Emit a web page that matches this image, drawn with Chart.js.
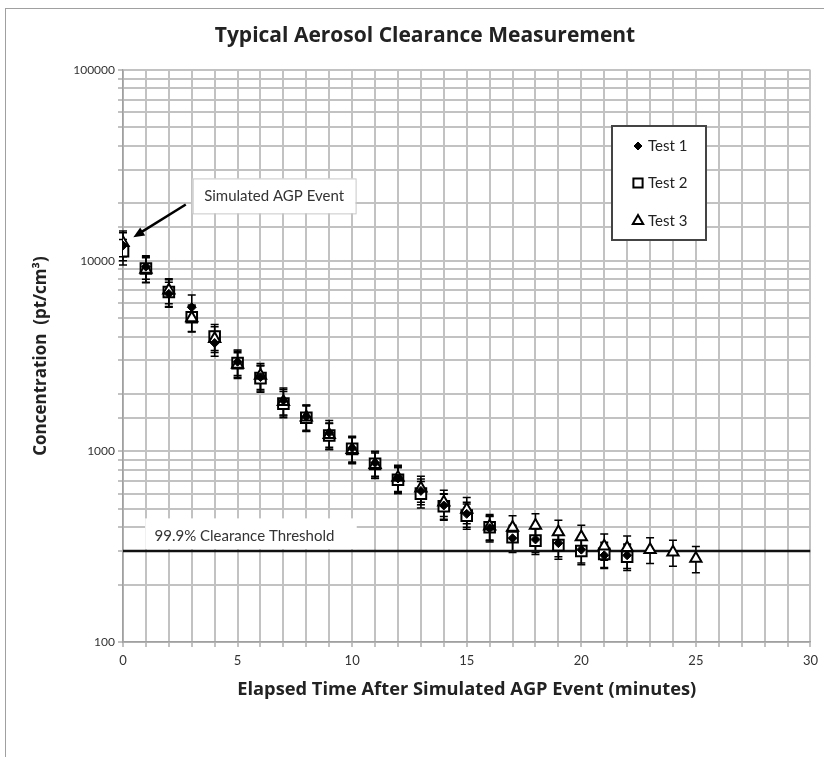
<!DOCTYPE html>
<html><head><meta charset="utf-8">
<script src="https://cdn.jsdelivr.net/npm/chart.js@4.4.0/dist/chart.umd.min.js"></script>
<style>
html,body{margin:0;padding:0;background:#fff;}
#wrap{position:relative;width:824px;height:757px;overflow:hidden;background:#fff;}
#frame{position:absolute;left:5px;top:8px;width:900px;height:900px;border:1.5px solid #a0a0a0;}
canvas{position:absolute;left:0;top:0;}
</style></head><body>
<div id="wrap"><div id="frame"></div><canvas id="c" width="824" height="757"></canvas></div>
<script>
// ---- data ----
const time12 = [0,1,2,3,4,5,6,7,8,9,10,11,12,13,14,15,16,17,18,19,20,21,22];
const time3  = [0,1,2,3,4,5,6,7,8,9,10,11,12,13,14,15,16,17,18,19,20,21,22,23,24,25];
const test1    = [12000,9300,6700,5700,3700,2950,2450,1850,1520,1250,1040,870,720,620,520,470,395,350,345,330,305,285,285];
const test1Err = [2000,1300,1000,900,550,450,380,300,230,200,160,130,110,95,80,70,60,55,50,50,45,42,42];
const test2    = [11200,9100,6850,5050,4000,2900,2420,1780,1500,1210,1030,860,710,600,515,460,400,355,340,322,300,290,280];
const test2Err = [1700,1400,1100,800,620,450,380,280,230,190,160,135,110,95,80,70,60,55,52,50,46,44,43];
const test3    = [12400,9000,7000,5000,3900,2850,2500,1820,1510,1220,1020,850,730,640,540,495,405,398,408,377,355,318,312,305,296,274];
const test3Err = [1900,1350,1050,780,600,440,390,290,235,190,160,130,115,100,85,78,62,62,62,58,55,50,48,47,46,43];
const threshold = 300;
const xTickLabels = [0,5,10,15,20,25,30];
const yTickLabels = [100,1000,10000,100000];
const seriesNames = ['Test 1','Test 2','Test 3'];
const chartTitle = 'Typical Aerosol Clearance Measurement';

const pts = (xs, ys) => xs.map((x, i) => ({x, y: ys[i]}));
const FONT = 'Lato, "Open Sans", sans-serif';
const BFONT = '"Open Sans", Lato, sans-serif';

const datasets = [
  {label: seriesNames[0], data: pts(time12, test1), err: test1Err, order: 1,
   pointStyle: 'rectRot', pointRadius: 4.5, backgroundColor: '#000', borderColor: '#000', borderWidth: 1, showLine: false},
  {label: seriesNames[2], data: pts(time3, test3), err: test3Err, order: 2,
   pointStyle: 'triangle', pointRadius: 6.5, backgroundColor: '#fff', borderColor: '#000', borderWidth: 2, showLine: false},
  {label: seriesNames[1], data: pts(time12, test2), err: test2Err, order: 3,
   pointStyle: 'rect', pointRadius: 7.5, backgroundColor: '#fff', borderColor: '#000', borderWidth: 2, showLine: false},
  {label: 'threshold', type: 'line', data: [{x: 0, y: threshold}, {x: 30, y: threshold}], order: 4,
   borderColor: '#111', borderWidth: 2.5, pointRadius: 0, fill: false}
];

const errorBars = {
  id: 'errorBars',
  beforeDatasetsDraw(chart) {
    const ctx = chart.ctx, xs = chart.scales.x, ys = chart.scales.y;
    ctx.save();
    ctx.strokeStyle = '#000'; ctx.lineWidth = 1.5;
    chart.data.datasets.forEach(ds => {
      if (!ds.err) return;
      ds.data.forEach((p, i) => {
        const px = xs.getPixelForValue(p.x);
        const top = ys.getPixelForValue(p.y + ds.err[i]);
        const bot = ys.getPixelForValue(p.y - ds.err[i]);
        ctx.beginPath();
        ctx.moveTo(px, top); ctx.lineTo(px, bot);
        ctx.moveTo(px - 4, top); ctx.lineTo(px + 4, top);
        ctx.moveTo(px - 4, bot); ctx.lineTo(px + 4, bot);
        ctx.stroke();
      });
    });
    ctx.restore();
  }
};

const annotations = {
  id: 'annotations',
  afterDatasetsDraw(chart) {
    const ctx = chart.ctx, xs = chart.scales.x, ys = chart.scales.y;
    const X = v => xs.getPixelForValue(v), Y = v => ys.getPixelForValue(v);
    ctx.save();
    // threshold label box
    let l = X(0.97), r = X(10.2), t = Y(445), b = Y(307);
    ctx.fillStyle = '#fff'; ctx.fillRect(l, t, r - l, b - t);
    ctx.fillStyle = '#333'; ctx.font = '15px ' + FONT;
    ctx.textAlign = 'center'; ctx.textBaseline = 'middle';
    ctx.fillText('99.9% Clearance Threshold', X(5.3), Y(358));
    // AGP event box
    l = X(3.04); r = X(10.15); t = Y(27000); b = Y(17700);
    ctx.fillStyle = '#fff'; ctx.fillRect(l, t, r - l, b - t);
    ctx.strokeStyle = '#c8c8c8'; ctx.lineWidth = 1; ctx.strokeRect(l + 0.5, t + 0.5, r - l, b - t);
    ctx.fillStyle = '#333';
    ctx.fillText('Simulated AGP Event', (l + r) / 2, (t + b) / 2);
    // arrow
    const x1 = X(2.74), y1 = Y(19700), x2 = X(0.45), y2 = Y(13250);
    ctx.strokeStyle = '#000'; ctx.lineWidth = 2.5;
    ctx.beginPath(); ctx.moveTo(x1, y1); ctx.lineTo(x2 + 6, y2 - 4); ctx.stroke();
    const ang = Math.atan2(y2 - y1, x2 - x1), hl = 12;
    ctx.fillStyle = '#000';
    ctx.beginPath();
    ctx.moveTo(x2, y2);
    ctx.lineTo(x2 - hl * Math.cos(ang - 0.4), y2 - hl * Math.sin(ang - 0.4));
    ctx.lineTo(x2 - hl * Math.cos(ang + 0.4), y2 - hl * Math.sin(ang + 0.4));
    ctx.closePath(); ctx.fill();
    ctx.restore();
  },
  afterDraw(chart) {
    const ctx = chart.ctx;
    ctx.save();
    // title
    ctx.fillStyle = '#222'; ctx.font = 'bold 21px ' + BFONT;
    ctx.textAlign = 'center'; ctx.textBaseline = 'middle';
    ctx.fillText(chartTitle, 425, 36);
    // legend box
    ctx.fillStyle = '#fff'; ctx.fillRect(612, 126, 94, 114);
    ctx.strokeStyle = '#444'; ctx.lineWidth = 2; ctx.strokeRect(612, 126, 94, 114);
    const items = [
      {ds: datasets[0], y: 146, r: 4},
      {ds: datasets[2], y: 183, r: 6.5},
      {ds: datasets[1], y: 221, r: 6}
    ];
    ctx.font = '15px ' + FONT; ctx.textAlign = 'left'; ctx.textBaseline = 'middle';
    items.forEach((it, i) => {
      ctx.fillStyle = it.ds.backgroundColor; ctx.strokeStyle = it.ds.borderColor; ctx.lineWidth = it.ds.borderWidth;
      Chart.helpers.drawPoint(ctx, {pointStyle: it.ds.pointStyle, radius: it.r, rotation: 0, borderWidth: it.ds.borderWidth}, 638, it.y);
      ctx.fillStyle = '#222';
      ctx.fillText(seriesNames[i], 648, it.y);
    });
    ctx.restore();
  }
};

new Chart(document.getElementById('c'), {
  type: 'scatter',
  data: {datasets},
  options: {
    responsive: false, animation: false,
    layout: {padding: {left: 0, right: 8, top: 70, bottom: 0}},
    plugins: {
      legend: {display: false}, tooltip: {enabled: false}, title: {display: false}
    },
    scales: {
      x: {type: 'linear', min: 0, max: 30,
        afterFit: s => { s.height = 115; },
        ticks: {stepSize: 1, autoSkip: false, maxRotation: 0, color: '#333', padding: 6,
          font: {family: FONT, size: 13},
          callback: v => xTickLabels.includes(v) ? String(v) : ''},
        grid: {color: '#c2c2c2', lineWidth: 2, tickLength: 5},
        border: {color: '#a0a0a0', width: 1.5},
        title: {display: true, text: 'Elapsed Time After Simulated AGP Event (minutes)', color: '#222',
          font: {family: BFONT, size: 18.3, weight: 'bold', lineHeight: 1.2}, padding: {top: 0, bottom: 56}}
      },
      y: {type: 'logarithmic', min: 100, max: 100000,
        afterFit: s => { s.width = 123; },
        ticks: {autoSkip: false, color: '#333', padding: 3, font: {family: FONT, size: 12},
          callback: v => yTickLabels.includes(v) ? String(v) : ''},
        grid: {color: '#c2c2c2', lineWidth: 2, tickLength: 5},
        border: {color: '#a0a0a0', width: 1.5},
        title: {display: true, text: 'Concentration  (pt/cm³)', color: '#222',
          font: {family: BFONT, size: 17, weight: 'bold', lineHeight: 1.2}, padding: {top: 31, bottom: 0}}
      }
    }
  },
  plugins: [errorBars, annotations]
});
</script>
</body></html>
